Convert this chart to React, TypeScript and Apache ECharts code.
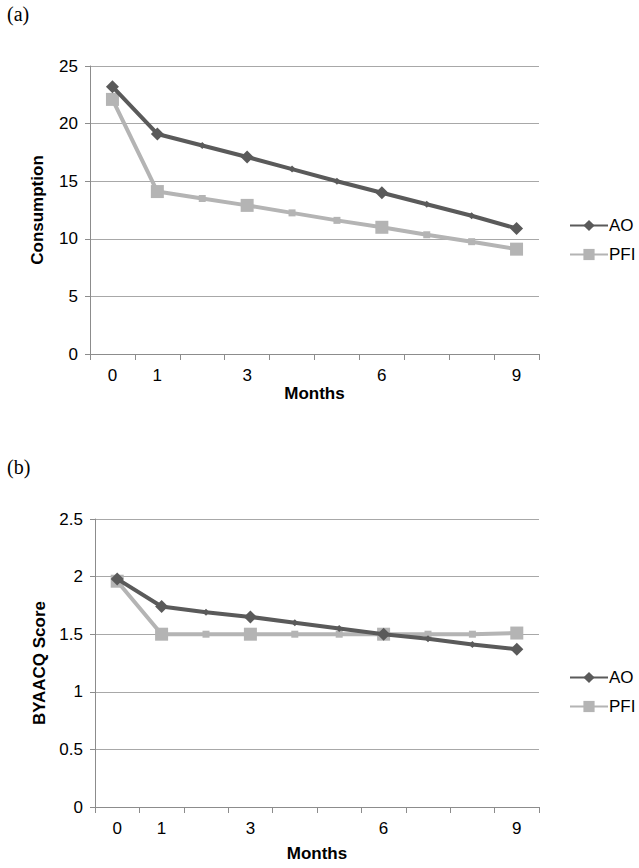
import React, { useEffect, useRef } from "react";
import * as echarts from "echarts";

const months = ["0", "1", "2", "3", "4", "5", "6", "7", "8", "9"];
const labeledMonths = ["0", "1", "3", "6", "9"];

const consumptionAO = [23.2, 19.1, 18.1, 17.1, 16.05, 15.0, 14.0, 13.0, 12.0, 10.9];
const consumptionPFI = [22.1, 14.1, 13.5, 12.9, 12.25, 11.6, 11.0, 10.35, 9.75, 9.1];

const byaacqAO = [1.98, 1.74, 1.69, 1.65, 1.6, 1.55, 1.5, 1.46, 1.41, 1.37];
const byaacqPFI = [1.96, 1.5, 1.5, 1.5, 1.5, 1.5, 1.5, 1.5, 1.5, 1.51];

const AO_COLOR = "#5a5a5a";
const PFI_COLOR = "#b4b4b4";
const FONT = "'Liberation Sans', Arial, sans-serif";

export default function App() {
  const ref = useRef<HTMLDivElement>(null);
  useEffect(() => {
    document.body.style.margin = "0";
    const chart = echarts.init(ref.current!, null, { renderer: "svg" });
    const symSize = (_v: any, p: any) =>
      labeledMonths.includes(months[p.dataIndex]) ? 13 : 7;

    const xAxisBase = (gridIndex: number, nameGap: number) => ({
      type: "category",
      gridIndex,
      data: months,
      boundaryGap: true,
      name: "Months",
      nameLocation: "middle",
      nameGap,
      nameTextStyle: { fontFamily: FONT, fontSize: 17, fontWeight: "bold", color: "#000" },
      axisLine: { lineStyle: { color: "#8c8c8c", width: 1 } },
      axisTick: { show: true, length: 6, interval: 0, lineStyle: { color: "#8c8c8c" } },
      axisLabel: {
        interval: (_i: number, v: string) => labeledMonths.includes(v),
        fontFamily: FONT,
        fontSize: 17,
        color: "#000",
        margin: 13,
      },
      splitLine: { show: false },
    });

    const yAxisBase = (gridIndex: number, name: string, max: number, interval: number) => ({
      type: "value",
      gridIndex,
      min: 0,
      max,
      interval,
      name,
      nameLocation: "middle",
      nameGap: 44,
      nameTextStyle: { fontFamily: FONT, fontSize: 17, fontWeight: "bold", color: "#000" },
      axisLine: { show: true, lineStyle: { color: "#8c8c8c", width: 1 } },
      axisTick: { show: true, length: 5, lineStyle: { color: "#8c8c8c" } },
      axisLabel: { fontFamily: FONT, fontSize: 17, color: "#000", margin: 12 },
      splitLine: { show: true, lineStyle: { color: "#a8a8a8", width: 1 } },
    });

    const series = (name: string, data: number[], idx: number, color: string, symbol: string) => ({
      name,
      type: "line",
      xAxisIndex: idx,
      yAxisIndex: idx,
      data,
      symbol,
      symbolSize: symSize,
      showAllSymbol: true,
      lineStyle: { color, width: 4 },
      itemStyle: { color },
      z: name === "PFI" ? 3 : 4,
    });

    const legendBase = (top: number) => ({
      data: ["AO", "PFI"],
      orient: "vertical",
      left: 564,
      top,
      itemWidth: 38,
      itemHeight: 14,
      itemGap: 12,
      selectedMode: false,
      textStyle: { fontFamily: FONT, fontSize: 17, color: "#000", padding: [0, 0, 0, -4] },
    });

    chart.setOption({
      animation: false,
      backgroundColor: "#fff",
      grid: [
        { left: 90, right: 100, top: 66, height: 288 },
        { left: 95, right: 100, top: 519, height: 288 },
      ],
      xAxis: [xAxisBase(0, 30), xAxisBase(1, 38)],
      yAxis: [
        yAxisBase(0, "Consumption", 25, 5),
        yAxisBase(1, "BYAACQ Score", 2.5, 0.5),
      ],
      legend: [legendBase(212), legendBase(664)],
      series: [
        series("AO", consumptionAO, 0, AO_COLOR, "diamond"),
        series("PFI", consumptionPFI, 0, PFI_COLOR, "rect"),
        series("AO", byaacqAO, 1, AO_COLOR, "diamond"),
        series("PFI", byaacqPFI, 1, PFI_COLOR, "rect"),
      ],
      graphic: [
        { type: "text", left: 7, top: 4, style: { text: "(a)", font: "20px 'Liberation Serif', 'Times New Roman', serif", fill: "#000" } },
        { type: "text", left: 7, top: 457, style: { text: "(b)", font: "20px 'Liberation Serif', 'Times New Roman', serif", fill: "#000" } },
      ],
    });
    return () => chart.dispose();
  }, []);
  return <div ref={ref} style={{ width: 639, height: 868 }} />;
}
